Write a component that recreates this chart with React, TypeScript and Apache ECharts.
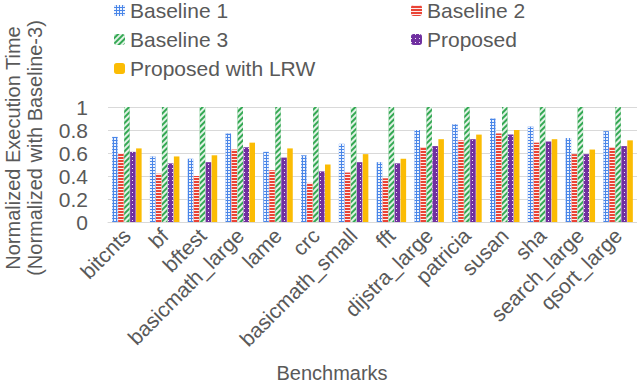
import React, { useEffect, useRef } from "react";
import * as echarts from "echarts";

const categories = [
  "bitcnts", "bf", "bftest", "basicmath_large", "lame", "crc", "basicmath_small",
  "fft", "dijstra_large", "patricia", "susan", "sha", "search_large", "qsort_large",
];
const baseline1 = [0.74, 0.57, 0.55, 0.77, 0.61, 0.58, 0.68, 0.52, 0.8, 0.85, 0.9, 0.83, 0.73, 0.79];
const baseline2 = [0.6, 0.42, 0.4, 0.63, 0.45, 0.34, 0.43, 0.38, 0.65, 0.71, 0.77, 0.69, 0.59, 0.65];
const baseline3 = [1, 1, 1, 1, 1, 1, 1, 1, 1, 1, 1, 1, 1, 1];
const proposed = [0.61, 0.51, 0.52, 0.65, 0.56, 0.44, 0.52, 0.51, 0.66, 0.72, 0.76, 0.7, 0.59, 0.66];
const proposedLRW = [0.64, 0.57, 0.58, 0.69, 0.64, 0.5, 0.59, 0.55, 0.72, 0.76, 0.8, 0.72, 0.63, 0.71];
const yTicks = [0, 0.2, 0.4, 0.6, 0.8, 1];

const FONT = "Liberation Sans, Arial, sans-serif";
const TXT = "#595959";

export default function App() {
  const ref = useRef<HTMLDivElement>(null);
  useEffect(() => {
    document.body.style.margin = "0";
    if (!ref.current) return;
    const chart = echarts.init(ref.current, undefined, { renderer: "svg" });
    const mk = (name: string, data: number[], color: string, decal: any) => ({
      name,
      type: "bar",
      data,
      barCategoryGap: "22%",
      barGap: "8%",
      itemStyle: decal ? { color, decal } : { color },
    });
    const legendText = { fontSize: 21, color: TXT, fontFamily: FONT };
    chart.setOption({
      animation: false,
      textStyle: { fontFamily: FONT },
      grid: { left: 108, right: 0, top: 107, bottom: 165, containLabel: false },
      legend: [
        {
          data: ["Baseline 1", "Baseline 3", "Proposed with LRW"],
          orient: "vertical",
          left: 114,
          top: 0,
          padding: 0,
          itemWidth: 11,
          itemHeight: 11,
          itemGap: 8,
          textStyle: legendText,
        },
        {
          data: ["Baseline 2", "Proposed"],
          orient: "vertical",
          left: 411,
          top: 0,
          padding: 0,
          itemWidth: 11,
          itemHeight: 11,
          itemGap: 8,
          textStyle: legendText,
        },
      ],
      xAxis: {
        type: "category",
        data: categories,
        axisTick: { show: false },
        axisLine: { lineStyle: { color: "#d9d9d9" } },
        axisLabel: { rotate: 45, fontSize: 21, color: TXT, margin: 10, interval: 0, fontFamily: FONT },
      },
      yAxis: {
        type: "value",
        min: yTicks[0],
        max: yTicks[yTicks.length - 1],
        interval: 0.2,
        axisLabel: { fontSize: 21, color: TXT, margin: 20, fontFamily: FONT },
        splitLine: { lineStyle: { color: "#d9d9d9" } },
      },
      graphic: [
        {
          type: "text",
          x: 24,
          y: 148,
          rotation: Math.PI / 2,
          style: {
            text: "Normalized Execution Time\n(Normalized with Baseline-3)",
            fontSize: 20,
            fontFamily: FONT,
            fill: TXT,
            align: "center",
            verticalAlign: "middle",
            lineHeight: 22,
          },
        },
        {
          type: "text",
          x: 332,
          y: 373,
          style: {
            text: "Benchmarks",
            fontSize: 20,
            fontFamily: FONT,
            fill: TXT,
            align: "center",
            verticalAlign: "middle",
          },
        },
      ],
      series: [
        mk("Baseline 1", baseline1, "#4a86e8", {
          symbol: "rect", color: "rgba(255,255,255,0.9)", dashArrayX: [2, 1], dashArrayY: [2, 1], symbolSize: 1, rotation: 0,
        }),
        mk("Baseline 2", baseline2, "#ea4335", {
          symbol: "rect", color: "rgba(255,255,255,0.9)", dashArrayX: [1, 0], dashArrayY: [1, 2], symbolSize: 1, rotation: 0,
        }),
        mk("Baseline 3", baseline3, "#34a853", {
          symbol: "rect", color: "rgba(255,255,255,0.85)", dashArrayX: [1, 0], dashArrayY: [2, 2], symbolSize: 1, rotation: -Math.PI / 4,
        }),
        mk("Proposed", proposed, "#7030a0", {
          symbol: "rect", color: "rgba(255,255,255,0.9)", dashArrayX: [1, 3], dashArrayY: [1, 3], symbolSize: 1, rotation: 0,
        }),
        mk("Proposed with LRW", proposedLRW, "#fbbc04", null),
      ],
    });
    return () => chart.dispose();
  }, []);
  return <div ref={ref} style={{ width: 637, height: 387 }} />;
}
